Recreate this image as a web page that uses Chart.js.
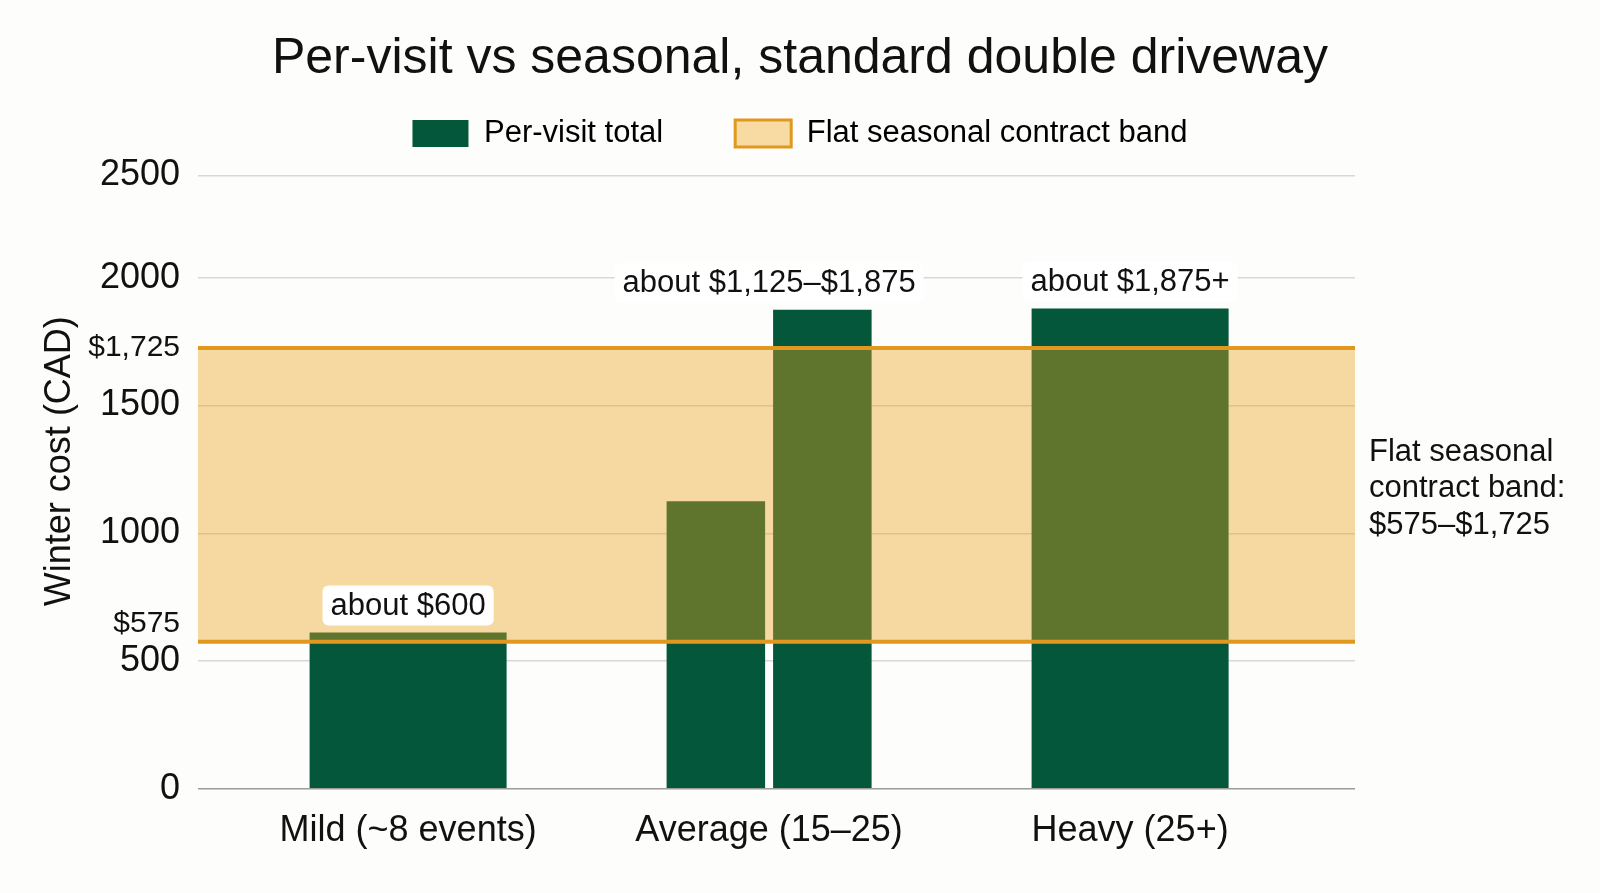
<!DOCTYPE html>
<html>
<head>
<meta charset="utf-8">
<script src="https://cdn.jsdelivr.net/npm/chart.js@4"></script>
<style>
  html, body { margin: 0; padding: 0; background: #fdfdfb; }
  #wrap { width: 1600px; height: 893px; }
</style>
</head>
<body>
<div id="wrap"><canvas id="costChart"></canvas></div>
<script>
const categories = ['Mild (~8 events)', 'Average (15–25)', 'Heavy (25+)'];
const perVisitLow = [612, 1125, 1880];      // single bar, or lower end for Average
const perVisitHigh = [null, 1875, null];    // upper end, only for Average
const barLabels = ['about $600', 'about $1,125–$1,875', 'about $1,875+'];
const bandLow = 575;
const bandHigh = 1725;
const bandNote = ['Flat seasonal', 'contract band:', '$575–$1,725'];
const yTickValues = [0, 500, 575, 1000, 1500, 1725, 2000, 2400];
const yTickLabels = ['0', '500', '$575', '1000', '1500', '$1,725', '2000', '2500'];
const legendNames = ['Per-visit total', 'Flat seasonal contract band'];

const FONT = '"Liberation Sans", Arial, sans-serif';
const GREEN = '#04573b';
const ORANGE = '#e0981f';

Chart.defaults.font.family = FONT;
Chart.defaults.color = '#111';

// band, its note, bar labels and y title drawn on top of the bars
const bandPlugin = {
    id: 'band',
    afterDatasetsDraw(chart) {
        const { ctx, chartArea: a, scales: { x, y } } = chart;
        const top = y.getPixelForValue(bandHigh);
        const bot = y.getPixelForValue(bandLow);
        ctx.save();
        ctx.fillStyle = 'rgba(232,163,26,0.40)';
        ctx.fillRect(a.left, top, a.width, bot - top);
        ctx.strokeStyle = ORANGE;
        ctx.lineWidth = 4;
        [top, bot].forEach(p => {
            ctx.beginPath();
            ctx.moveTo(a.left, p);
            ctx.lineTo(a.right, p);
            ctx.stroke();
        });

        ctx.font = '31px ' + FONT;
        ctx.textBaseline = 'middle';
        ctx.textAlign = 'center';
        categories.forEach((c, i) => {
            const v = Math.max(perVisitLow[i], perVisitHigh[i] ?? 0);
            const cx = x.getPixelForValue(i);
            const cy = y.getPixelForValue(v) - 27;
            const w = ctx.measureText(barLabels[i]).width + 16;
            ctx.fillStyle = '#fff';
            ctx.beginPath();
            ctx.roundRect(cx - w / 2, cy - 20, w, 40, 6);
            ctx.fill();
            ctx.fillStyle = '#111';
            ctx.fillText(barLabels[i], cx, cy + 1);
        });

        ctx.textAlign = 'left';
        const mid = (top + bot) / 2 - 6;
        bandNote.forEach((t, k) => ctx.fillText(t, a.right + 14, mid + (k - 1) * 36.5));

        ctx.translate(60, (a.top + a.bottom) / 2 - 21);
        ctx.rotate(-Math.PI / 2);
        ctx.textAlign = 'center';
        ctx.font = '36px ' + FONT;
        ctx.fillText('Winter cost (CAD)', 0, 0);
        ctx.restore();
    }
};

// empty axes only used to reserve room (right side for the note, gap under legend)
const spacer = (fit) => ({
    type: 'linear',
    display: true,
    grid: { display: false },
    border: { display: false },
    ticks: { display: false },
    afterFit: fit
});

const ctx = document.getElementById('costChart').getContext('2d');

new Chart(ctx, {
    type: 'bar',
    data: {
        datasets: [{
            label: legendNames[0],
            data: categories.map((c, i) => ({ x: i, y: perVisitLow[i] })),
            backgroundColor: GREEN
        }, {
            label: legendNames[0],
            data: categories.map((c, i) => ({ x: i, y: perVisitHigh[i] })),
            backgroundColor: GREEN
        }]
    },
    options: {
        responsive: true,
        maintainAspectRatio: false,
        animation: false,
        skipNull: true,
        categoryPercentage: 0.59,
        barPercentage: 0.925,
        layout: { padding: { left: 0, right: 0, top: 0, bottom: 27 } },
        plugins: {
            title: {
                display: true,
                text: 'Per-visit vs seasonal, standard double driveway',
                font: { size: 50, weight: 'normal' },
                color: '#111',
                padding: { top: 29, bottom: 0 }
            },
            legend: {
                labels: {
                    boxWidth: 56,
                    boxHeight: 27,
                    padding: 29,
                    font: { size: 31 },
                    generateLabels: () => [
                        { text: legendNames[0] + '\u00a0\u00a0\u00a0\u00a0\u00a0', fillStyle: GREEN, strokeStyle: GREEN, lineWidth: 0 },
                        { text: legendNames[1], fillStyle: '#f8dba3', strokeStyle: ORANGE, lineWidth: 3 }
                    ]
                }
            },
            tooltip: { enabled: false }
        },
        scales: {
            x: {
                type: 'linear',
                offset: false,
                min: -0.582,
                max: 2.623,
                grid: { display: false },
                border: { display: false },
                afterBuildTicks: s => { s.ticks = categories.map((c, i) => ({ value: i })); },
                ticks: {
                    autoSkip: false,
                    maxRotation: 0,
                    padding: 13,
                    font: { size: 36 },
                    color: '#111',
                    callback: v => categories[v] ?? ''
                }
            },
            y: {
                min: 0,
                max: 2400,
                afterFit: s => { s.width = 198; },
                afterBuildTicks: s => { s.ticks = yTickValues.map(v => ({ value: v })); },
                border: { display: false },
                grid: {
                    drawTicks: false,
                    color: c => c.tick && c.tick.value === 0 ? '#9c9c9c' : '#d8d8d8',
                    lineWidth: 1.5
                },
                ticks: {
                    padding: 18,
                    color: '#111',
                    font: c => ({ size: String(c.tick && yTickLabels[yTickValues.indexOf(c.tick.value)]).startsWith('$') ? 30 : 36 }),
                    callback: v => {
                        const lab = yTickLabels[yTickValues.indexOf(v)];
                        return v === bandLow ? [lab, ''] : lab;
                    }
                }
            },
            yNote: Object.assign(spacer(s => { s.width = 245; }), { position: 'right' }),
            xGap: Object.assign(spacer(s => { s.height = 16.5; }), { position: 'top' })
        }
    },
    plugins: [bandPlugin]
});
</script>
</body>
</html>
